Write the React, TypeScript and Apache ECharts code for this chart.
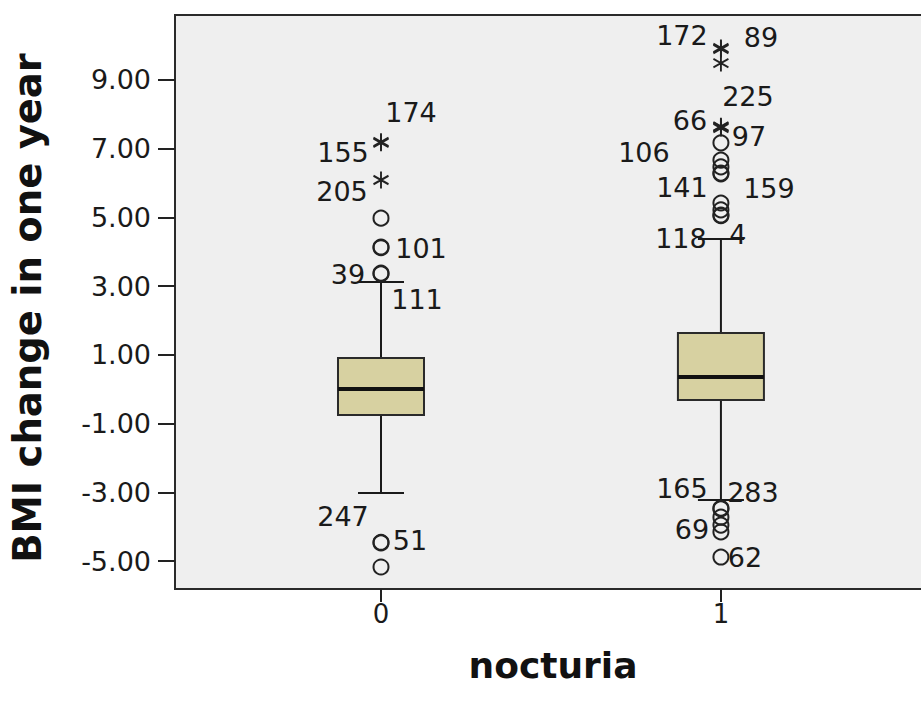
import React, { useEffect, useRef } from "react";
import * as echarts from "echarts";

// ---- data ----
const categories = ["0", "1"];
const yTickValues = [-5, -3, -1, 1, 3, 5, 7, 9];
// [low whisker, Q1, median, Q3, high whisker]
const boxStats0 = [-3.02, -0.75, 0.01, 0.91, 3.12];
const boxStats1 = [-3.22, -0.31, 0.36, 1.64, 4.37];

const group0Extremes = [7.2, 7.17, 6.09];
const group0ExtremeIds = ["174", "155", "205"];
const group0Outliers = [4.98, 4.14, 4.12, 3.38, 3.36, -4.47, -4.45, -5.17];
const group0OutlierIds = ["", "101", "", "39", "111", "51", "247", ""];

const group1Extremes = [9.93, 9.9, 9.49, 7.65, 7.63, 7.6];
const group1ExtremeIds = ["172", "89", "", "225", "66", "97"];
const group1Outliers = [7.17, 6.67, 6.47, 6.29, 6.27, 5.42, 5.22, 5.07, 5.05, -3.46, -3.48, -3.72, -3.95, -4.15, -4.88];
const group1OutlierIds = ["106", "", "", "141", "159", "", "", "118", "4", "165", "283", "", "", "69", "62"];

// ---- layout / style (label placement relative to marker, px) ----
const labelOffsets: Record<string, [number, number]> = {
  "174": [30, -29], "155": [-38, 10], "205": [-39, 12], "101": [40, 1],
  "39": [-33, 1], "111": [36, 26], "51": [29, -2], "247": [-38, -26],
  "172": [-39, -12], "89": [40, -12], "225": [27, -30], "66": [-31, -7],
  "97": [28, 8], "106": [-77, 10], "141": [-39, 14], "159": [48, 15],
  "118": [-40, 23], "4": [17, 19], "165": [-39, -20], "283": [32, -16],
  "69": [-29, -2], "62": [24, 0],
};

const FONT = "DejaVu Sans";
const TEXT_COLOR = "#1a1a1a";
const BOX_PX = 86;
const CAP_PX = 46;
const STAR = "path://M0,-10L0,10M-8.66,-5L8.66,5M-8.66,5L8.66,-5";

function pts(group: number, vals: number[], ids: string[]) {
  return vals.map((v, i) => {
    const id = ids[i];
    const item: any = { value: [group, v], name: id };
    if (id) {
      item.label = {
        show: true,
        formatter: id,
        offset: labelOffsets[id] || [0, 0],
        color: TEXT_COLOR,
      };
    }
    return item;
  });
}

export default function App() {
  const ref = useRef<HTMLDivElement>(null);
  useEffect(() => {
    if (!ref.current) return;
    const chart = echarts.init(ref.current, null, { renderer: "svg" });
    const labelStyle = {
      show: false,
      position: "inside",
      fontFamily: FONT,
      fontSize: 27,
      color: TEXT_COLOR,
      align: "center",
      verticalAlign: "middle",
    };
    chart.setOption({
      animation: false,
      backgroundColor: "#ffffff",
      grid: {
        left: 175,
        top: 15,
        right: 4,
        bottom: 113,
        show: true,
        backgroundColor: "#efefef",
        borderColor: "#2a2a2a",
        borderWidth: 2,
      },
      xAxis: {
        type: "value",
        min: -0.606,
        max: 1.618,
        name: "nocturia",
        nameLocation: "middle",
        nameGap: 58,
        nameTextStyle: { fontFamily: FONT, fontSize: 36, fontWeight: "bold", color: "#111" },
        axisLine: { show: false, onZero: false },
        splitLine: { show: false },
        axisTick: { show: true, customValues: [0, 1], length: 13, lineStyle: { color: "#222", width: 2 } },
        axisLabel: {
          customValues: [0, 1],
          formatter: (v: number) => categories[Math.round(v)] ?? "",
          fontFamily: FONT,
          fontSize: 26,
          color: TEXT_COLOR,
          margin: 12,
        },
      },
      yAxis: {
        type: "value",
        min: -5.81,
        max: 10.89,
        name: "BMI change in one year",
        nameLocation: "middle",
        nameRotate: 90,
        nameGap: 128,
        nameTextStyle: { fontFamily: FONT, fontSize: 38.5, fontWeight: "bold", color: "#111", padding: [0, 12, 0, 0] },
        axisLine: { show: false, onZero: false },
        splitLine: { show: false },
        axisTick: { show: true, customValues: yTickValues, length: 17, lineStyle: { color: "#222", width: 2 } },
        axisLabel: {
          customValues: yTickValues,
          formatter: (v: number) => v.toFixed(2),
          fontFamily: FONT,
          fontSize: 27,
          color: TEXT_COLOR,
          margin: 24,
        },
      },
      series: [
        {
          type: "custom",
          data: [[0, ...boxStats0], [1, ...boxStats1]],
          renderItem: (params: any, api: any) => {
            const x = api.value(0);
            const low = api.coord([x, api.value(1)]);
            const q1 = api.coord([x, api.value(2)]);
            const med = api.coord([x, api.value(3)]);
            const q3 = api.coord([x, api.value(4)]);
            const high = api.coord([x, api.value(5)]);
            const cx = low[0];
            const lineStyle = { stroke: "#1a1a1a", lineWidth: 2 };
            return {
              type: "group",
              children: [
                { type: "line", shape: { x1: cx, y1: low[1], x2: cx, y2: q1[1] }, style: lineStyle },
                { type: "line", shape: { x1: cx, y1: q3[1], x2: cx, y2: high[1] }, style: lineStyle },
                { type: "line", shape: { x1: cx - CAP_PX / 2, y1: low[1], x2: cx + CAP_PX / 2, y2: low[1] }, style: lineStyle },
                { type: "line", shape: { x1: cx - CAP_PX / 2, y1: high[1], x2: cx + CAP_PX / 2, y2: high[1] }, style: lineStyle },
                {
                  type: "rect",
                  shape: { x: cx - BOX_PX / 2, y: q3[1], width: BOX_PX, height: q1[1] - q3[1] },
                  style: { fill: "#d7d1a1", stroke: "#2a2a2a", lineWidth: 2 },
                },
                { type: "line", shape: { x1: cx - BOX_PX / 2, y1: med[1], x2: cx + BOX_PX / 2, y2: med[1] }, style: { stroke: "#111", lineWidth: 4 } },
              ],
            };
          },
          z: 2,
        },
        {
          type: "scatter",
          symbol: "circle",
          symbolSize: 15,
          itemStyle: { color: "rgba(0,0,0,0)", borderColor: "#222", borderWidth: 2, opacity: 1 },
          label: labelStyle,
          data: [...pts(0, group0Outliers, group0OutlierIds), ...pts(1, group1Outliers, group1OutlierIds)],
          z: 3,
        },
        {
          type: "scatter",
          symbol: STAR,
          symbolSize: [15, 17],
          itemStyle: { color: "rgba(0,0,0,0)", borderColor: "#222", borderWidth: 2, opacity: 1 },
          label: labelStyle,
          data: [...pts(0, group0Extremes, group0ExtremeIds), ...pts(1, group1Extremes, group1ExtremeIds)],
          z: 3,
        },
      ],
    });
    return () => chart.dispose();
  }, []);
  return (
    <div style={{ position: "absolute", left: 0, top: 0, width: 921, height: 702, overflow: "hidden" }}>
      <div ref={ref} style={{ width: 935, height: 702 }} />
    </div>
  );
}
